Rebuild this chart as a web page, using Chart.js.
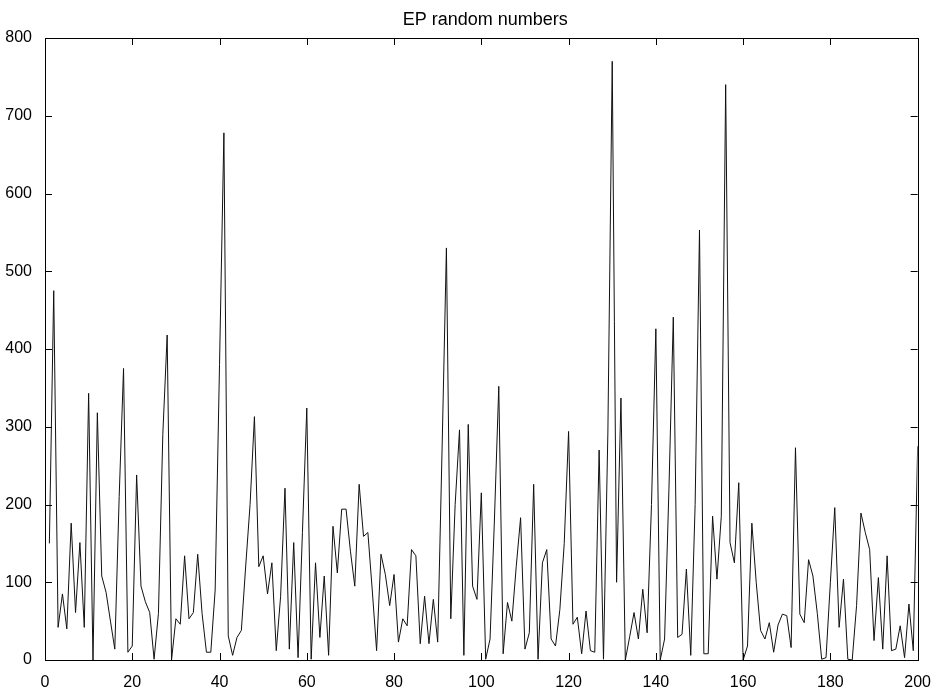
<!DOCTYPE html>
<html>
<head>
<meta charset="utf-8">
<title>EP random numbers</title>
<script src="https://cdn.jsdelivr.net/npm/chart.js@4/dist/chart.umd.min.js"></script>
<style>
  html, body { margin: 0; padding: 0; background: #fff; }
  #wrap { width: 936px; height: 690px; }
</style>
</head>
<body>
<div id="wrap"><canvas id="myChart" width="936" height="690"></canvas></div>
<script>
const titleText = 'EP random numbers';
const xTicks = [0, 20, 40, 60, 80, 100, 120, 140, 160, 180, 200];
const yTicks = [0, 100, 200, 300, 400, 500, 600, 700, 800];

// sample values, index 1..200
const epValues = [
    150, 475, 42, 85, 40, 176, 61, 151, 42, 343,
    0, 318, 108, 87, 50, 14, 210, 375, 10, 18,
    238, 95, 75, 61, 1, 60, 290, 418, 0, 53,
    46, 134, 53, 61, 136, 60, 10, 10, 90, 380,
    678, 31, 6, 29, 38, 121, 200, 313, 120, 134,
    85, 125, 12, 82, 221, 14, 151, 3, 164, 324,
    1, 125, 29, 108, 6, 172, 112, 194, 194, 140,
    95, 226, 159, 164, 90, 12, 136, 110, 70, 110,
    23, 53, 44, 142, 134, 21, 82, 21, 78, 23,
    270, 530, 53, 200, 296, 6, 303, 95, 78, 215,
    1, 27, 180, 352, 8, 74, 50, 120, 183, 14,
    35, 226, 1, 125, 142, 27, 18, 65, 150, 294,
    46, 55, 8, 63, 12, 10, 270, 1, 292, 770,
    100, 337, 0, 30, 61, 27, 91, 35, 200, 426,
    0, 27, 220, 441, 29, 33, 117, 6, 200, 553,
    8, 8, 185, 104, 185, 740, 151, 125, 228, 0,
    18, 176, 100, 38, 27, 48, 10, 45, 59, 57,
    16, 273, 59, 48, 129, 108, 60, 1, 3, 100,
    196, 42, 104, 1, 0, 70, 189, 164, 142, 25,
    106, 14, 134, 12, 14, 44, 3, 72, 12, 275
];

document.addEventListener('DOMContentLoaded', () => {
    drawChart();
});

// matlab style box, inward ticks on all four sides, title over the axes
const boxTicks = {
    id: 'boxTicks',
    afterDraw(chart) {
        const ctx = chart.ctx;
        const a = chart.chartArea;
        const xs = chart.scales.x;
        const ys = chart.scales.y;
        ctx.save();
        ctx.strokeStyle = '#000';
        ctx.lineWidth = 1;
        ctx.strokeRect(Math.round(a.left) + 0.5, Math.round(a.top) + 0.5,
            Math.round(a.right - a.left), Math.round(a.bottom - a.top));
        ctx.beginPath();
        xTicks.forEach(v => {
            const p = Math.round(xs.getPixelForValue(v)) + 0.5;
            ctx.moveTo(p, a.bottom); ctx.lineTo(p, a.bottom - 7);
            ctx.moveTo(p, a.top); ctx.lineTo(p, a.top + 7);
        });
        yTicks.forEach(v => {
            const p = Math.round(ys.getPixelForValue(v)) + 0.5;
            ctx.moveTo(a.left, p); ctx.lineTo(a.left + 7, p);
            ctx.moveTo(a.right, p); ctx.lineTo(a.right - 7, p);
        });
        ctx.stroke();

        ctx.fillStyle = '#000';
        ctx.font = '18px "Liberation Sans", Arial, sans-serif';
        ctx.textAlign = 'center';
        ctx.textBaseline = 'alphabetic';
        ctx.fillText(titleText, (a.left + a.right) / 2 + 4, 25);
        ctx.restore();
    }
};

function drawChart() {
    const ctx = document.getElementById('myChart').getContext('2d');
    const points = epValues.map((v, i) => ({ x: i + 1, y: v }));
    const font = { family: 'Liberation Sans, Arial, sans-serif', size: 16 };

    new Chart(ctx, {
        type: 'line',
        data: {
            datasets: [{
                label: titleText,
                data: points,
                borderColor: '#111',
                borderWidth: 1,
                pointRadius: 0,
                tension: 0,
                fill: false
            }]
        },
        options: {
            responsive: false,
            animation: false,
            layout: { padding: { left: 0, right: 18, top: 38, bottom: 0 } },
            plugins: {
                legend: { display: false },
                tooltip: { enabled: false },
                title: { display: false }
            },
            scales: {
                x: {
                    type: 'linear',
                    min: 0,
                    max: 200,
                    afterBuildTicks: s => { s.ticks = xTicks.map(v => ({ value: v })); },
                    afterFit: s => { s.height = 30; },
                    grid: { display: false },
                    border: { display: false },
                    ticks: { color: '#000', font: font, padding: 5, maxRotation: 0 }
                },
                y: {
                    min: 0,
                    max: 800,
                    afterBuildTicks: s => { s.ticks = yTicks.map(v => ({ value: v })); },
                    afterFit: s => { s.width = 45; },
                    grid: { display: false },
                    border: { display: false },
                    ticks: { color: '#000', font: font, padding: 5 }
                }
            }
        },
        plugins: [boxTicks]
    });
}
</script>
</body>
</html>
